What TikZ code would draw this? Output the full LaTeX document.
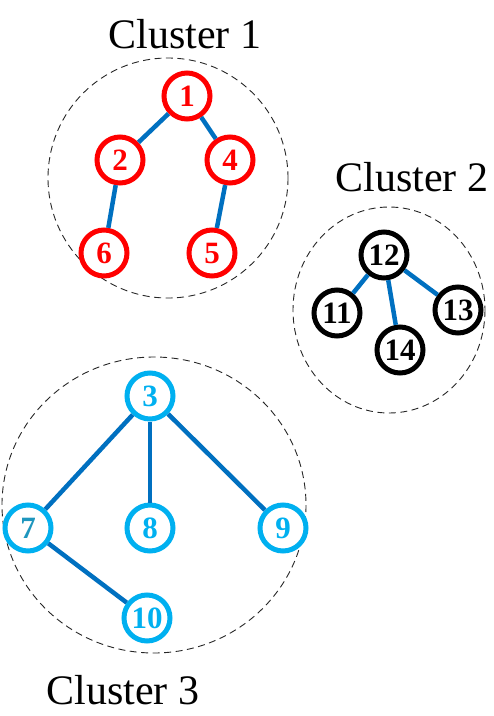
\documentclass[tikz,border=0pt]{standalone}
\usepackage{fontspec}
\setmainfont{Liberation Serif}
\definecolor{nred}{RGB}{255,0,0}
\definecolor{ncyan}{RGB}{0,176,240}
\definecolor{nteal}{RGB}{30,150,190}
\definecolor{edgeblue}{RGB}{0,112,192}
\begin{document}
\begin{tikzpicture}[x=1pt,y=-1pt,
  vtx/.style={circle,line width=5pt,minimum size=46pt,inner sep=0pt,fill=white,
    font=\fontsize{31}{31}\selectfont\bfseries},
  rednode/.style={vtx,draw=nred,text=nred},
  blknode/.style={vtx,draw=black,text=black},
  cynnode/.style={vtx,draw=ncyan,text=ncyan},
  edge/.style={draw=edgeblue,line width=4.5pt},
  cluster/.style={draw=black!85,line width=0.9pt,dash pattern=on 7pt off 4.5pt},
  clabel/.style={font=\fontsize{42}{42}\selectfont,inner sep=0pt}]
\useasboundingbox (0,0) rectangle (494,716);
% clusters
\draw[cluster] (168,178) ellipse [x radius=120, y radius=120];
\draw[cluster] (389,310) ellipse [x radius=96, y radius=103];
\draw[cluster] (154,505) ellipse [x radius=152, y radius=148];
% labels
\node[clabel] (l1) at (185,34) {Cluster 1};
\node[clabel] (l2) at (412,177) {Cluster 2};
\node[clabel] (l3) at (123,690) {Cluster 3};
% cluster 1
\node[rednode] (n1) at (187,96) {1};
\node[rednode] (n2) at (120,160) {2};
\node[rednode] (n4) at (230,160) {4};
\node[rednode] (n6) at (104,253) {6};
\node[rednode] (n5) at (212,253) {5};
% cluster 2
\node[blknode] (n12) at (384,255) {12};
\node[blknode] (n11) at (337,313) {11};
\node[blknode] (n14) at (400,350) {14};
\node[blknode] (n13) at (458,310) {13};
% cluster 3
\node[cynnode] (n3) at (150,396) {3};
\node[cynnode,text=nteal] (n7) at (28,528) {7};
\node[cynnode] (n8) at (150,528) {8};
\node[cynnode] (n9) at (283,528) {9};
\node[cynnode] (n10) at (147,618) {10};
% edges
\draw[edge] (n1) -- (n2);
\draw[edge] (n1) -- (n4);
\draw[edge] (n2) -- (n6);
\draw[edge] (n4) -- (n5);
\draw[edge] (n12) -- (n11);
\draw[edge] (n12) -- (n14);
\draw[edge] (n12) -- (n13);
\draw[edge] (n3) -- (n7);
\draw[edge] (n3) -- (n8);
\draw[edge] (n3) -- (n9);
\draw[edge] (n7) -- (n10);
\end{tikzpicture}
\end{document}
